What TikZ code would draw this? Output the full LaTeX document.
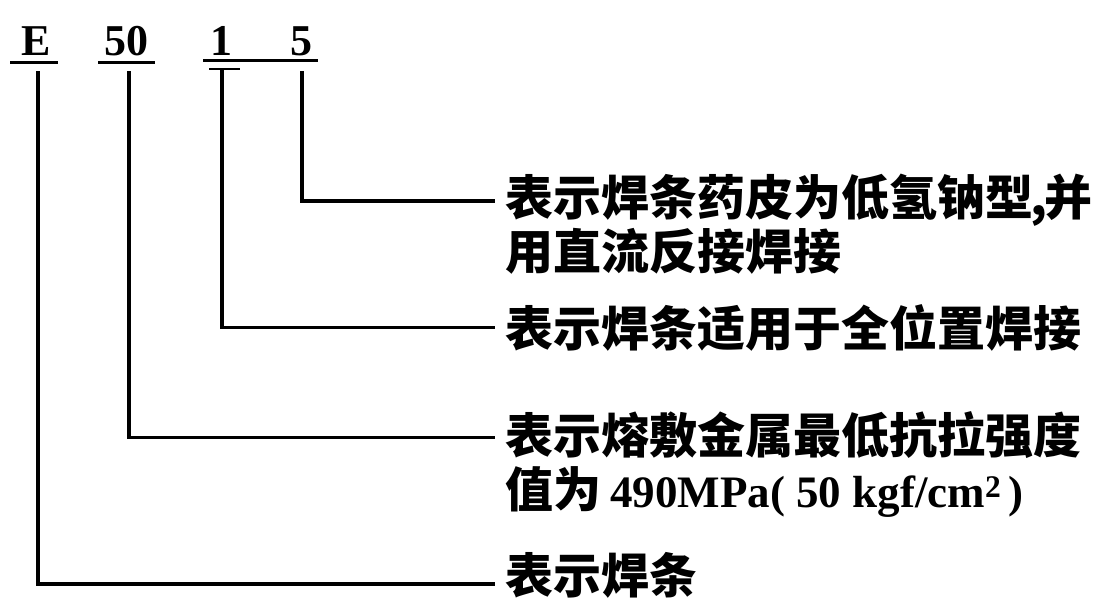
\documentclass[tikz,border=0pt]{standalone}
\usepackage{fontspec}
\newfontfamily\cjk{Noto Sans CJK SC}
\newfontfamily\lat{Liberation Serif}
\begin{document}
\begin{tikzpicture}[x=1pt,y=-1pt,
  ln/.style={line width=3.8pt,line cap=rect},
  ul/.style={line width=3pt},
  code/.style={font=\lat\bfseries\fontsize{44}{44}\selectfont, inner sep=0pt, anchor=base},
  lab/.style={font=\cjk\bfseries\fontsize{48}{54}\selectfont, inner sep=0pt, anchor=base west}]
\useasboundingbox[fill=white] (0,0) rectangle (1100,599);
% code letters
\node[code] (E) at (36,56) {E};
\node[code] (f) at (126,56) {50};
\node[code] (o) at (221,56) {1};
\node[code] (v) at (301,56) {5};
% underlines
\draw[ul] (10,63) -- (58,63);
\draw[ul] (98,63) -- (155,63);
\draw[ul] (203,61) -- (318,61);
\draw[line width=2.5pt] (209,69) -- (240,69);
% connector tops
\coordinate (eT) at (38,73);
\coordinate (fT) at (129,73);
\coordinate (oT) at (222,71);
\coordinate (vT) at (302,73);
% labels
\node[lab] (l1a) at (505,215) {表示焊条药皮为低氢钠型\kern-3pt,\kern-3pt并};
\node[lab] (l1b) at (505,269) {用直流反接焊接};
\node[lab] (l2) at (505,346) {表示焊条适用于全位置焊接};
\node[lab] (l3a) at (505,453) {表示熔敷金属最低抗拉强度};
\node[lab] (l3b) at (505,507) {值为\kern9pt{\lat\fontsize{45}{54}\selectfont 490MPa( 50 kgf/cm\textsuperscript{2}\,)}};
\node[lab] (l4) at (505,593) {表示焊条};
% connector ends
\coordinate (vE) at ([xshift=-12pt,yshift=-1pt]l1a.west);
\coordinate (oE) at ([xshift=-12pt]l2.west);
\coordinate (fE) at ([xshift=-12pt,yshift=-3pt]l3a.west);
\coordinate (eE) at ([xshift=-12pt,yshift=-9pt]l4.west);
\draw[ln] (vT) |- (vE);
\draw[ln] (oT) |- (oE);
\draw[ln] (fT) |- (fE);
\draw[ln] (eT) |- (eE);
\end{tikzpicture}
\end{document}
